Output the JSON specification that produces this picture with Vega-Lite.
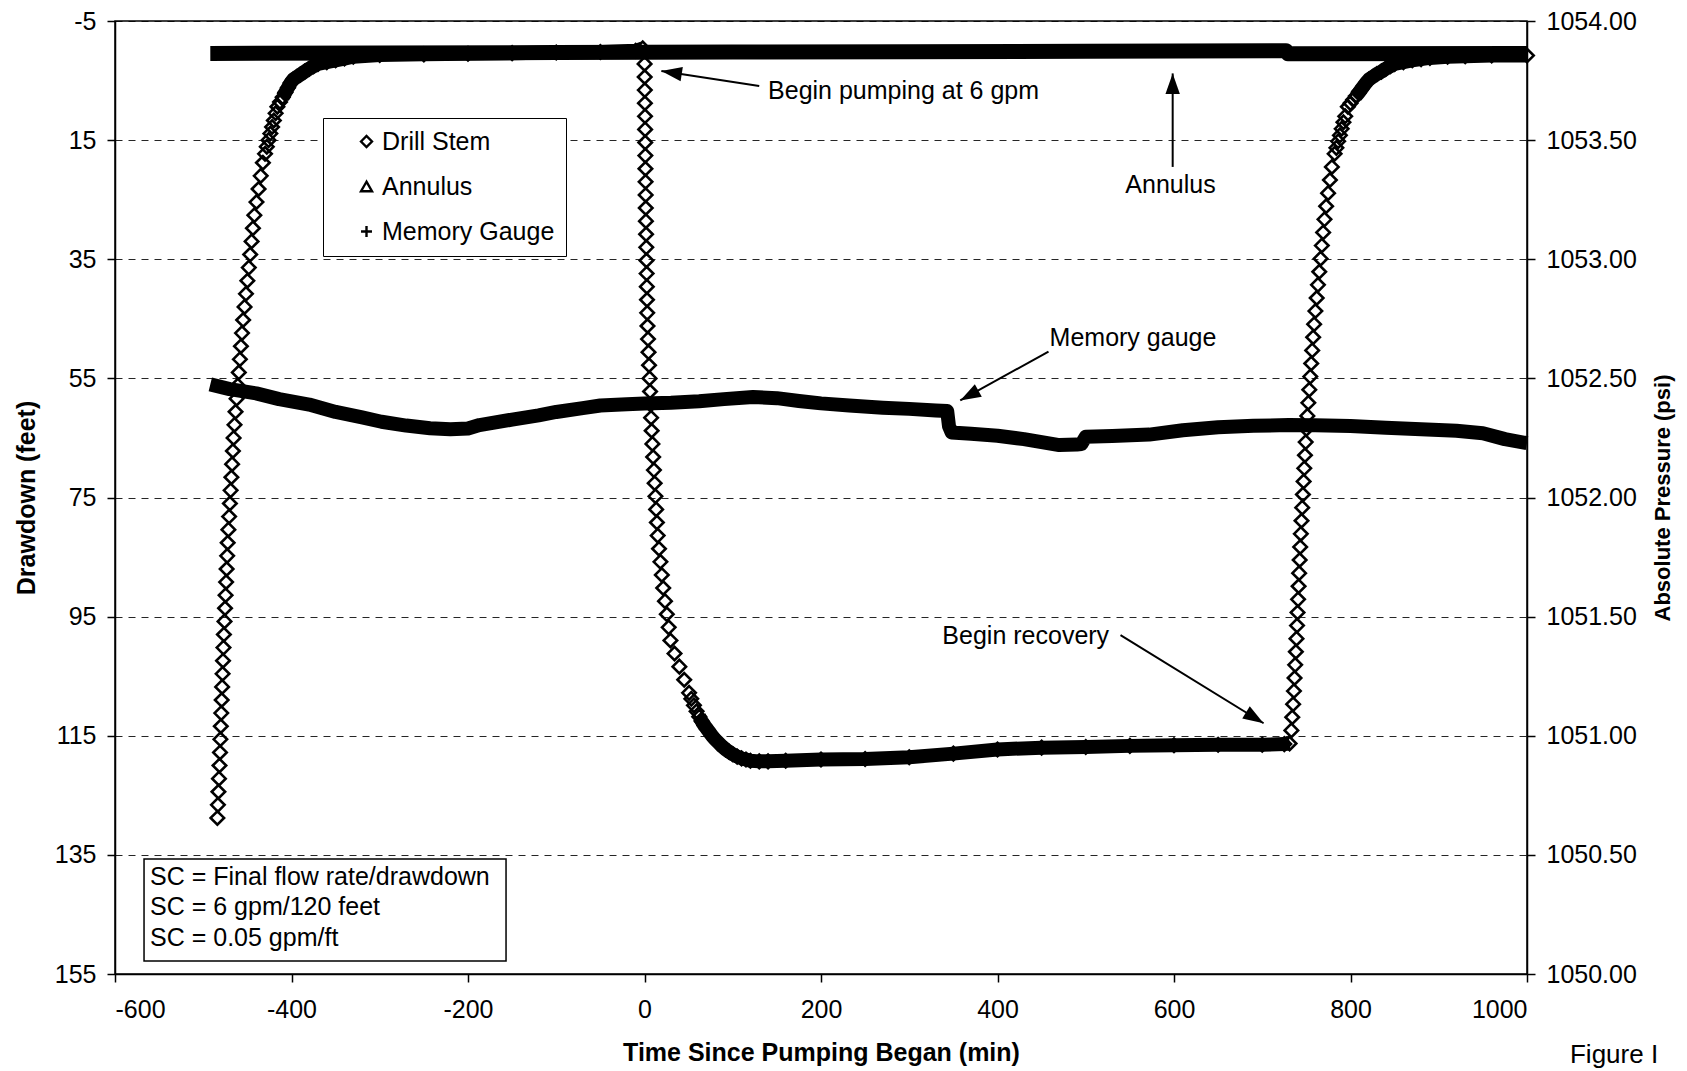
{
  "$schema": "https://vega.github.io/schema/vega-lite/v6.json",
  "width": 1412,
  "height": 953,
  "autosize": "none",
  "padding": {"left": 115, "top": 21, "right": 160, "bottom": 97},
  "background": "white",
  "config": {
    "font": "Liberation Sans",
    "view": {"stroke": "black", "strokeWidth": 1.5},
    "axis": {
      "domainColor": "black", "domainWidth": 1.5, "tickColor": "black", "tickWidth": 1.5, "tickSize": 8,
      "labelColor": "black", "labelFontSize": 25, "labelFont": "Liberation Sans", "labelPadding": 11,
      "titleFont": "Liberation Sans", "titleColor": "black", "titleFontWeight": "bold",
      "gridColor": "black", "gridDash": [7, 6], "gridWidth": 1, "gridOpacity": 0.85
    }
  },
  "datasets": {
    "drill": [
      {"t":-484.0,"d":128.8,"phase":"prior recovery","series":"Drill Stem"},
      {"t":-483.4,"d":126.6,"phase":"prior recovery","series":"Drill Stem"},
      {"t":-482.8,"d":124.4,"phase":"prior recovery","series":"Drill Stem"},
      {"t":-482.2,"d":122.2,"phase":"prior recovery","series":"Drill Stem"},
      {"t":-481.6,"d":120.0,"phase":"prior recovery","series":"Drill Stem"},
      {"t":-481.0,"d":117.8,"phase":"prior recovery","series":"Drill Stem"},
      {"t":-480.6,"d":115.6,"phase":"prior recovery","series":"Drill Stem"},
      {"t":-480.1,"d":113.4,"phase":"prior recovery","series":"Drill Stem"},
      {"t":-479.6,"d":111.2,"phase":"prior recovery","series":"Drill Stem"},
      {"t":-479.1,"d":109.0,"phase":"prior recovery","series":"Drill Stem"},
      {"t":-478.6,"d":106.8,"phase":"prior recovery","series":"Drill Stem"},
      {"t":-478.1,"d":104.6,"phase":"prior recovery","series":"Drill Stem"},
      {"t":-477.6,"d":102.4,"phase":"prior recovery","series":"Drill Stem"},
      {"t":-477.1,"d":100.2,"phase":"prior recovery","series":"Drill Stem"},
      {"t":-476.6,"d":98.0,"phase":"prior recovery","series":"Drill Stem"},
      {"t":-475.9,"d":95.8,"phase":"prior recovery","series":"Drill Stem"},
      {"t":-475.3,"d":93.6,"phase":"prior recovery","series":"Drill Stem"},
      {"t":-474.7,"d":91.4,"phase":"prior recovery","series":"Drill Stem"},
      {"t":-474.1,"d":89.2,"phase":"prior recovery","series":"Drill Stem"},
      {"t":-473.5,"d":87.0,"phase":"prior recovery","series":"Drill Stem"},
      {"t":-472.9,"d":84.8,"phase":"prior recovery","series":"Drill Stem"},
      {"t":-472.3,"d":82.6,"phase":"prior recovery","series":"Drill Stem"},
      {"t":-471.5,"d":80.4,"phase":"prior recovery","series":"Drill Stem"},
      {"t":-470.7,"d":78.2,"phase":"prior recovery","series":"Drill Stem"},
      {"t":-469.8,"d":76.0,"phase":"prior recovery","series":"Drill Stem"},
      {"t":-469.0,"d":73.8,"phase":"prior recovery","series":"Drill Stem"},
      {"t":-468.1,"d":71.6,"phase":"prior recovery","series":"Drill Stem"},
      {"t":-467.3,"d":69.4,"phase":"prior recovery","series":"Drill Stem"},
      {"t":-466.4,"d":67.2,"phase":"prior recovery","series":"Drill Stem"},
      {"t":-465.6,"d":65.0,"phase":"prior recovery","series":"Drill Stem"},
      {"t":-464.6,"d":62.8,"phase":"prior recovery","series":"Drill Stem"},
      {"t":-463.4,"d":60.6,"phase":"prior recovery","series":"Drill Stem"},
      {"t":-462.2,"d":58.4,"phase":"prior recovery","series":"Drill Stem"},
      {"t":-460.9,"d":56.2,"phase":"prior recovery","series":"Drill Stem"},
      {"t":-459.7,"d":54.0,"phase":"prior recovery","series":"Drill Stem"},
      {"t":-458.5,"d":51.8,"phase":"prior recovery","series":"Drill Stem"},
      {"t":-457.3,"d":49.6,"phase":"prior recovery","series":"Drill Stem"},
      {"t":-456.1,"d":47.4,"phase":"prior recovery","series":"Drill Stem"},
      {"t":-454.8,"d":45.2,"phase":"prior recovery","series":"Drill Stem"},
      {"t":-453.2,"d":43.0,"phase":"prior recovery","series":"Drill Stem"},
      {"t":-451.6,"d":40.8,"phase":"prior recovery","series":"Drill Stem"},
      {"t":-450.0,"d":38.6,"phase":"prior recovery","series":"Drill Stem"},
      {"t":-448.4,"d":36.4,"phase":"prior recovery","series":"Drill Stem"},
      {"t":-446.8,"d":34.2,"phase":"prior recovery","series":"Drill Stem"},
      {"t":-445.2,"d":32.0,"phase":"prior recovery","series":"Drill Stem"},
      {"t":-443.7,"d":29.8,"phase":"prior recovery","series":"Drill Stem"},
      {"t":-442.1,"d":27.6,"phase":"prior recovery","series":"Drill Stem"},
      {"t":-439.7,"d":25.4,"phase":"prior recovery","series":"Drill Stem"},
      {"t":-437.3,"d":23.2,"phase":"prior recovery","series":"Drill Stem"},
      {"t":-434.9,"d":21.0,"phase":"prior recovery","series":"Drill Stem"},
      {"t":-432.4,"d":18.8,"phase":"prior recovery","series":"Drill Stem"},
      {"t":-430,"d":17.3,"phase":"prior recovery","series":"Drill Stem"},
      {"t":-428,"d":16.1,"phase":"prior recovery","series":"Drill Stem"},
      {"t":-426,"d":15.0,"phase":"prior recovery","series":"Drill Stem"},
      {"t":-424,"d":13.9,"phase":"prior recovery","series":"Drill Stem"},
      {"t":-422,"d":12.8,"phase":"prior recovery","series":"Drill Stem"},
      {"t":-420,"d":11.7,"phase":"prior recovery","series":"Drill Stem"},
      {"t":-418,"d":10.5,"phase":"prior recovery","series":"Drill Stem"},
      {"t":-416,"d":9.4,"phase":"prior recovery","series":"Drill Stem"},
      {"t":-413,"d":8.6,"phase":"prior recovery","series":"Drill Stem"},
      {"t":-410,"d":7.8,"phase":"static","series":"Drill Stem"},
      {"t":-407,"d":7.0,"phase":"static","series":"Drill Stem"},
      {"t":-404,"d":6.2,"phase":"static","series":"Drill Stem"},
      {"t":-401,"d":5.4,"phase":"static","series":"Drill Stem"},
      {"t":-398,"d":4.8,"phase":"static","series":"Drill Stem"},
      {"t":-394,"d":4.4,"phase":"static","series":"Drill Stem"},
      {"t":-390,"d":4.0,"phase":"static","series":"Drill Stem"},
      {"t":-385,"d":3.5,"phase":"static","series":"Drill Stem"},
      {"t":-380,"d":3.0,"phase":"static","series":"Drill Stem"},
      {"t":-375,"d":2.6,"phase":"static","series":"Drill Stem"},
      {"t":-370,"d":2.2,"phase":"static","series":"Drill Stem"},
      {"t":-360,"d":1.9,"phase":"static","series":"Drill Stem"},
      {"t":-350,"d":1.6,"phase":"static","series":"Drill Stem"},
      {"t":-340,"d":1.3,"phase":"static","series":"Drill Stem"},
      {"t":-330,"d":1.0,"phase":"static","series":"Drill Stem"},
      {"t":-300,"d":0.7,"phase":"static","series":"Drill Stem"},
      {"t":-250,"d":0.6,"phase":"static","series":"Drill Stem"},
      {"t":-200,"d":0.5,"phase":"static","series":"Drill Stem"},
      {"t":-150,"d":0.4,"phase":"static","series":"Drill Stem"},
      {"t":-100,"d":0.3,"phase":"static","series":"Drill Stem"},
      {"t":-50,"d":0.2,"phase":"static","series":"Drill Stem"},
      {"t":-10,"d":0.0,"phase":"static","series":"Drill Stem"},
      {"t":-2,"d":-0.4,"phase":"static","series":"Drill Stem"},
      {"t":0.1,"d":2.2,"phase":"drawdown","series":"Drill Stem"},
      {"t":0.22,"d":4.4,"phase":"drawdown","series":"Drill Stem"},
      {"t":0.34,"d":6.6,"phase":"drawdown","series":"Drill Stem"},
      {"t":0.47,"d":8.8,"phase":"drawdown","series":"Drill Stem"},
      {"t":0.59,"d":11.0,"phase":"drawdown","series":"Drill Stem"},
      {"t":0.71,"d":13.2,"phase":"drawdown","series":"Drill Stem"},
      {"t":0.83,"d":15.4,"phase":"drawdown","series":"Drill Stem"},
      {"t":0.95,"d":17.6,"phase":"drawdown","series":"Drill Stem"},
      {"t":1.07,"d":19.8,"phase":"drawdown","series":"Drill Stem"},
      {"t":1.2,"d":22.0,"phase":"drawdown","series":"Drill Stem"},
      {"t":1.32,"d":24.2,"phase":"drawdown","series":"Drill Stem"},
      {"t":1.44,"d":26.4,"phase":"drawdown","series":"Drill Stem"},
      {"t":1.6,"d":28.6,"phase":"drawdown","series":"Drill Stem"},
      {"t":1.81,"d":30.8,"phase":"drawdown","series":"Drill Stem"},
      {"t":2.02,"d":33.0,"phase":"drawdown","series":"Drill Stem"},
      {"t":2.23,"d":35.2,"phase":"drawdown","series":"Drill Stem"},
      {"t":2.43,"d":37.4,"phase":"drawdown","series":"Drill Stem"},
      {"t":2.64,"d":39.6,"phase":"drawdown","series":"Drill Stem"},
      {"t":2.85,"d":41.8,"phase":"drawdown","series":"Drill Stem"},
      {"t":3.06,"d":44.0,"phase":"drawdown","series":"Drill Stem"},
      {"t":3.39,"d":46.2,"phase":"drawdown","series":"Drill Stem"},
      {"t":3.97,"d":48.4,"phase":"drawdown","series":"Drill Stem"},
      {"t":4.56,"d":50.6,"phase":"drawdown","series":"Drill Stem"},
      {"t":5.15,"d":52.8,"phase":"drawdown","series":"Drill Stem"},
      {"t":5.73,"d":55.0,"phase":"drawdown","series":"Drill Stem"},
      {"t":6.32,"d":57.2,"phase":"drawdown","series":"Drill Stem"},
      {"t":6.91,"d":59.4,"phase":"drawdown","series":"Drill Stem"},
      {"t":7.49,"d":61.6,"phase":"drawdown","series":"Drill Stem"},
      {"t":8.12,"d":63.8,"phase":"drawdown","series":"Drill Stem"},
      {"t":8.97,"d":66.0,"phase":"drawdown","series":"Drill Stem"},
      {"t":9.82,"d":68.2,"phase":"drawdown","series":"Drill Stem"},
      {"t":10.67,"d":70.4,"phase":"drawdown","series":"Drill Stem"},
      {"t":11.52,"d":72.6,"phase":"drawdown","series":"Drill Stem"},
      {"t":12.37,"d":74.8,"phase":"drawdown","series":"Drill Stem"},
      {"t":13.22,"d":77.0,"phase":"drawdown","series":"Drill Stem"},
      {"t":14.07,"d":79.2,"phase":"drawdown","series":"Drill Stem"},
      {"t":14.92,"d":81.4,"phase":"drawdown","series":"Drill Stem"},
      {"t":16.44,"d":83.6,"phase":"drawdown","series":"Drill Stem"},
      {"t":18.03,"d":85.8,"phase":"drawdown","series":"Drill Stem"},
      {"t":19.62,"d":88.0,"phase":"drawdown","series":"Drill Stem"},
      {"t":21.21,"d":90.2,"phase":"drawdown","series":"Drill Stem"},
      {"t":23.2,"d":92.4,"phase":"drawdown","series":"Drill Stem"},
      {"t":25.3,"d":94.6,"phase":"drawdown","series":"Drill Stem"},
      {"t":27.4,"d":96.8,"phase":"drawdown","series":"Drill Stem"},
      {"t":29.4,"d":99.0,"phase":"drawdown","series":"Drill Stem"},
      {"t":34.0,"d":101.2,"phase":"drawdown","series":"Drill Stem"},
      {"t":39.5,"d":103.4,"phase":"drawdown","series":"Drill Stem"},
      {"t":45.0,"d":105.6,"phase":"drawdown","series":"Drill Stem"},
      {"t":50.5,"d":107.8,"phase":"drawdown","series":"Drill Stem"},
      {"t":53,"d":108.8,"phase":"drawdown","series":"Drill Stem"},
      {"t":56,"d":109.9,"phase":"drawdown","series":"Drill Stem"},
      {"t":59,"d":110.9,"phase":"drawdown","series":"Drill Stem"},
      {"t":62,"d":111.8,"phase":"pumping","series":"Drill Stem"},
      {"t":65,"d":112.6,"phase":"pumping","series":"Drill Stem"},
      {"t":68,"d":113.3,"phase":"pumping","series":"Drill Stem"},
      {"t":71,"d":113.9,"phase":"pumping","series":"Drill Stem"},
      {"t":74,"d":114.5,"phase":"pumping","series":"Drill Stem"},
      {"t":77,"d":115.1,"phase":"pumping","series":"Drill Stem"},
      {"t":80,"d":115.6,"phase":"pumping","series":"Drill Stem"},
      {"t":84,"d":116.2,"phase":"pumping","series":"Drill Stem"},
      {"t":88,"d":116.8,"phase":"pumping","series":"Drill Stem"},
      {"t":92,"d":117.3,"phase":"pumping","series":"Drill Stem"},
      {"t":96,"d":117.7,"phase":"pumping","series":"Drill Stem"},
      {"t":100,"d":118.1,"phase":"pumping","series":"Drill Stem"},
      {"t":105,"d":118.5,"phase":"pumping","series":"Drill Stem"},
      {"t":110,"d":118.8,"phase":"pumping","series":"Drill Stem"},
      {"t":115,"d":119.0,"phase":"pumping","series":"Drill Stem"},
      {"t":120,"d":119.2,"phase":"pumping","series":"Drill Stem"},
      {"t":130,"d":119.3,"phase":"pumping","series":"Drill Stem"},
      {"t":140,"d":119.3,"phase":"pumping","series":"Drill Stem"},
      {"t":160,"d":119.2,"phase":"pumping","series":"Drill Stem"},
      {"t":200,"d":119.0,"phase":"pumping","series":"Drill Stem"},
      {"t":250,"d":118.9,"phase":"pumping","series":"Drill Stem"},
      {"t":300,"d":118.6,"phase":"pumping","series":"Drill Stem"},
      {"t":350,"d":118.0,"phase":"pumping","series":"Drill Stem"},
      {"t":400,"d":117.3,"phase":"pumping","series":"Drill Stem"},
      {"t":450,"d":117.0,"phase":"pumping","series":"Drill Stem"},
      {"t":500,"d":116.9,"phase":"pumping","series":"Drill Stem"},
      {"t":550,"d":116.7,"phase":"pumping","series":"Drill Stem"},
      {"t":600,"d":116.6,"phase":"pumping","series":"Drill Stem"},
      {"t":650,"d":116.5,"phase":"pumping","series":"Drill Stem"},
      {"t":700,"d":116.5,"phase":"pumping","series":"Drill Stem"},
      {"t":725,"d":116.4,"phase":"pumping","series":"Drill Stem"},
      {"t":731,"d":116.3,"phase":"pumping","series":"Drill Stem"},
      {"t":733.0,"d":114.1,"phase":"recovery","series":"Drill Stem"},
      {"t":734.0,"d":111.9,"phase":"recovery","series":"Drill Stem"},
      {"t":735.0,"d":109.7,"phase":"recovery","series":"Drill Stem"},
      {"t":735.9,"d":107.5,"phase":"recovery","series":"Drill Stem"},
      {"t":736.6,"d":105.3,"phase":"recovery","series":"Drill Stem"},
      {"t":737.3,"d":103.1,"phase":"recovery","series":"Drill Stem"},
      {"t":738.1,"d":100.9,"phase":"recovery","series":"Drill Stem"},
      {"t":738.8,"d":98.7,"phase":"recovery","series":"Drill Stem"},
      {"t":739.4,"d":96.5,"phase":"recovery","series":"Drill Stem"},
      {"t":740.0,"d":94.3,"phase":"recovery","series":"Drill Stem"},
      {"t":740.6,"d":92.1,"phase":"recovery","series":"Drill Stem"},
      {"t":741.2,"d":89.9,"phase":"recovery","series":"Drill Stem"},
      {"t":741.8,"d":87.7,"phase":"recovery","series":"Drill Stem"},
      {"t":742.4,"d":85.5,"phase":"recovery","series":"Drill Stem"},
      {"t":743.0,"d":83.3,"phase":"recovery","series":"Drill Stem"},
      {"t":743.7,"d":81.1,"phase":"recovery","series":"Drill Stem"},
      {"t":744.5,"d":78.9,"phase":"recovery","series":"Drill Stem"},
      {"t":745.3,"d":76.7,"phase":"recovery","series":"Drill Stem"},
      {"t":746.1,"d":74.5,"phase":"recovery","series":"Drill Stem"},
      {"t":746.9,"d":72.3,"phase":"recovery","series":"Drill Stem"},
      {"t":747.6,"d":70.1,"phase":"recovery","series":"Drill Stem"},
      {"t":748.4,"d":67.9,"phase":"recovery","series":"Drill Stem"},
      {"t":749.2,"d":65.7,"phase":"recovery","series":"Drill Stem"},
      {"t":750.0,"d":63.5,"phase":"recovery","series":"Drill Stem"},
      {"t":751.1,"d":61.3,"phase":"recovery","series":"Drill Stem"},
      {"t":752.2,"d":59.1,"phase":"recovery","series":"Drill Stem"},
      {"t":753.3,"d":56.9,"phase":"recovery","series":"Drill Stem"},
      {"t":754.4,"d":54.7,"phase":"recovery","series":"Drill Stem"},
      {"t":755.5,"d":52.5,"phase":"recovery","series":"Drill Stem"},
      {"t":756.6,"d":50.3,"phase":"recovery","series":"Drill Stem"},
      {"t":757.7,"d":48.1,"phase":"recovery","series":"Drill Stem"},
      {"t":758.8,"d":45.9,"phase":"recovery","series":"Drill Stem"},
      {"t":760.2,"d":43.7,"phase":"recovery","series":"Drill Stem"},
      {"t":761.7,"d":41.5,"phase":"recovery","series":"Drill Stem"},
      {"t":763.1,"d":39.3,"phase":"recovery","series":"Drill Stem"},
      {"t":764.6,"d":37.1,"phase":"recovery","series":"Drill Stem"},
      {"t":766.1,"d":34.9,"phase":"recovery","series":"Drill Stem"},
      {"t":767.5,"d":32.7,"phase":"recovery","series":"Drill Stem"},
      {"t":769.0,"d":30.5,"phase":"recovery","series":"Drill Stem"},
      {"t":770.5,"d":28.3,"phase":"recovery","series":"Drill Stem"},
      {"t":772.4,"d":26.1,"phase":"recovery","series":"Drill Stem"},
      {"t":774.6,"d":23.9,"phase":"recovery","series":"Drill Stem"},
      {"t":776.7,"d":21.7,"phase":"recovery","series":"Drill Stem"},
      {"t":778.9,"d":19.5,"phase":"recovery","series":"Drill Stem"},
      {"t":782,"d":17.3,"phase":"recovery","series":"Drill Stem"},
      {"t":784,"d":16.3,"phase":"recovery","series":"Drill Stem"},
      {"t":786,"d":15.2,"phase":"recovery","series":"Drill Stem"},
      {"t":788,"d":14.2,"phase":"recovery","series":"Drill Stem"},
      {"t":790,"d":13.1,"phase":"recovery","series":"Drill Stem"},
      {"t":792,"d":12.0,"phase":"recovery","series":"Drill Stem"},
      {"t":794,"d":11.0,"phase":"recovery","series":"Drill Stem"},
      {"t":797,"d":9.4,"phase":"recovery","series":"Drill Stem"},
      {"t":800,"d":8.8,"phase":"recovery","series":"Drill Stem"},
      {"t":803,"d":8.2,"phase":"recovery","series":"Drill Stem"},
      {"t":806,"d":7.6,"phase":"post","series":"Drill Stem"},
      {"t":809,"d":7.1,"phase":"post","series":"Drill Stem"},
      {"t":812,"d":6.5,"phase":"post","series":"Drill Stem"},
      {"t":815,"d":5.9,"phase":"post","series":"Drill Stem"},
      {"t":818,"d":5.3,"phase":"post","series":"Drill Stem"},
      {"t":821,"d":4.8,"phase":"post","series":"Drill Stem"},
      {"t":825,"d":4.4,"phase":"post","series":"Drill Stem"},
      {"t":830,"d":3.9,"phase":"post","series":"Drill Stem"},
      {"t":835,"d":3.5,"phase":"post","series":"Drill Stem"},
      {"t":840,"d":3.0,"phase":"post","series":"Drill Stem"},
      {"t":845,"d":2.6,"phase":"post","series":"Drill Stem"},
      {"t":850,"d":2.2,"phase":"post","series":"Drill Stem"},
      {"t":860,"d":1.9,"phase":"post","series":"Drill Stem"},
      {"t":870,"d":1.6,"phase":"post","series":"Drill Stem"},
      {"t":880,"d":1.4,"phase":"post","series":"Drill Stem"},
      {"t":890,"d":1.2,"phase":"post","series":"Drill Stem"},
      {"t":910,"d":1.0,"phase":"post","series":"Drill Stem"},
      {"t":930,"d":0.9,"phase":"post","series":"Drill Stem"},
      {"t":960,"d":0.8,"phase":"post","series":"Drill Stem"},
      {"t":1000,"d":0.8,"phase":"post","series":"Drill Stem"}
    ],
    "annulus": [
      {"t":-492,"d":0.45},{"t":-300,"d":0.38},{"t":-100,"d":0.3},{"t":100,"d":0.22},
      {"t":300,"d":0.15},{"t":500,"d":0.08},{"t":727,"d":0.0},{"t":729,"d":0.5},{"t":1000,"d":0.45}
    ],
    "gauge": [
      {"t":-492,"psi":1052.475},{"t":-470,"psi":1052.455},{"t":-440,"psi":1052.437},{"t":-414,"psi":1052.413},
      {"t":-380,"psi":1052.390},{"t":-350,"psi":1052.359},{"t":-320,"psi":1052.336},{"t":-298,"psi":1052.318},
      {"t":-270,"psi":1052.302},{"t":-243,"psi":1052.291},{"t":-220,"psi":1052.286},{"t":-200,"psi":1052.290},
      {"t":-187,"psi":1052.304},{"t":-150,"psi":1052.327},{"t":-120,"psi":1052.345},{"t":-100,"psi":1052.359},
      {"t":-70,"psi":1052.375},{"t":-50,"psi":1052.386},{"t":-20,"psi":1052.391},{"t":0,"psi":1052.395},
      {"t":30,"psi":1052.398},{"t":62,"psi":1052.404},{"t":90,"psi":1052.413},{"t":123,"psi":1052.422},
      {"t":150,"psi":1052.417},{"t":175,"psi":1052.405},{"t":200,"psi":1052.395},{"t":232,"psi":1052.386},
      {"t":270,"psi":1052.377},{"t":300,"psi":1052.372},{"t":330,"psi":1052.365},{"t":343,"psi":1052.363},
      {"t":345,"psi":1052.300},{"t":348,"psi":1052.273},{"t":370,"psi":1052.268},{"t":400,"psi":1052.259},
      {"t":430,"psi":1052.245},{"t":470,"psi":1052.220},{"t":490,"psi":1052.222},{"t":495,"psi":1052.224},
      {"t":500,"psi":1052.255},{"t":530,"psi":1052.258},{"t":572,"psi":1052.264},{"t":610,"psi":1052.282},
      {"t":650,"psi":1052.295},{"t":690,"psi":1052.301},{"t":730,"psi":1052.304},{"t":760,"psi":1052.303},
      {"t":800,"psi":1052.300},{"t":840,"psi":1052.293},{"t":880,"psi":1052.286},{"t":920,"psi":1052.280},
      {"t":950,"psi":1052.270},{"t":975,"psi":1052.245},{"t":1000,"psi":1052.228}
    ]
  },
  "encoding": {
    "x": {
      "field": "t", "type": "quantitative",
      "scale": {"domain": [-600, 1000], "nice": false, "zero": false},
      "axis": {
        "values": [-600, -400, -200, 0, 200, 400, 600, 800, 1000],
        "labelExpr": "'' + datum.value",
        "title": "Time Since Pumping Began (min)", "titleFontSize": 25, "titlePadding": 18,
        "labelPadding": 15, "grid": false
      }
    }
  },
  "layer": [
    {
      "encoding": {
        "y": {
          "field": "d", "type": "quantitative",
          "scale": {"domain": [-5, 155], "reverse": true, "nice": false, "zero": false},
          "axis": {
            "values": [-5, 15, 35, 55, 75, 95, 115, 135, 155],
            "labelExpr": "'' + datum.value",
            "title": "Drawdown (feet)", "titleFontSize": 25, "titlePadding": 15, "grid": true
          }
        }
      },
      "layer": [
        {
          "data": {"name": "drill"},
          "transform": [{"filter": {"field": "phase", "oneOf": ["static", "pumping", "post"]}}],
          "mark": {"type": "line", "color": "black", "strokeWidth": 14, "strokeJoin": "round", "strokeCap": "butt"},
          "encoding": {"detail": {"field": "phase"}}
        },
        {
          "data": {"name": "annulus"},
          "mark": {"type": "line", "color": "black", "strokeWidth": 15, "strokeJoin": "round", "strokeCap": "butt"},
          "encoding": {}
        },
        {
          "data": {"name": "drill"},
          "mark": {"type": "point", "filled": false, "color": "black", "strokeWidth": 2.6, "size": 180, "opacity": 1},
          "encoding": {
            "shape": {
              "field": "series", "type": "nominal",
              "scale": {"domain": ["Drill Stem", "Annulus", "Memory Gauge"], "range": ["M-1,0L0,-1L1,0L0,1Z", "triangle-up", "M-1,0H1M0,-1V1"]},
              "legend": {
                "title": null, "orient": "none", "legendX": 208, "legendY": 97, "direction": "vertical",
                "strokeColor": "black", "fillColor": "white", "padding": 11,
                "labelFont": "Liberation Sans", "labelFontSize": 25, "labelColor": "black", "labelLimit": 500,
                "labelExpr": "datum.label + '\u00a0\u00a0\u00a0\u00a0\u00a0\u00a0\u00a0\u00a0\u00a0\u00a0'",
                "symbolSize": 120, "symbolStrokeWidth": 2.4, "symbolFillColor": "transparent", "symbolStrokeColor": "black",
                "symbolOffset": 20, "labelOffset": 3, "rowPadding": 19
              }
            }
          }
        },
        {
          "data": {"values": [{"t": -567.1, "t2": -156.9, "d": 135.7, "d2": 152.8}]},
          "mark": {"type": "rect", "fill": "white", "stroke": "black", "strokeWidth": 1.5},
          "encoding": {"x2": {"field": "t2"}, "y2": {"field": "d2"}}
        },
        {
          "data": {"values": [{"t": -560.3, "d": 138.7}]},
          "mark": {"type": "text", "text": ["SC = Final flow rate/drawdown", "SC = 6 gpm/120 feet", "SC = 0.05 gpm/ft"], "align": "left", "baseline": "middle", "fontSize": 25, "lineHeight": 30.5, "color": "black"}
        },
        {
          "data": {"values": [
            {"t": 140, "d": 6.8, "label": "Begin pumping at 6 gpm"}
          ]},
          "mark": {"type": "text", "align": "left", "baseline": "middle", "fontSize": 25, "color": "black"},
          "encoding": {"text": {"field": "label"}}
        },
        {
          "data": {"values": [
            {"t": 596, "d": 22.5, "label": "Annulus"},
            {"t": 553.5, "d": 48.2, "label": "Memory gauge"},
            {"t": 432, "d": 98.2, "label": "Begin recovery"}
          ]},
          "mark": {"type": "text", "align": "center", "baseline": "middle", "fontSize": 25, "color": "black"},
          "encoding": {"text": {"field": "label"}}
        },
        {
          "data": {"values": [
            {"t": 130, "d": 5.9, "t2": 19.1, "d2": 3.4},
            {"t": 598.5, "d": 19.5, "t2": 598.5, "d2": 3.8},
            {"t": 457.8, "d": 50.5, "t2": 357.8, "d2": 58.7},
            {"t": 539.4, "d": 98.1, "t2": 701.5, "d2": 112.9}
          ]},
          "mark": {"type": "rule", "color": "black", "strokeWidth": 2},
          "encoding": {"x2": {"field": "t2"}, "y2": {"field": "d2"}}
        },
        {
          "data": {"values": [{"t": 19.1, "d": 3.4}]},
          "mark": {"type": "point", "shape": "M0,0L0.35,1L-0.35,1Z", "filled": true, "color": "black", "size": 1700, "angle": 278.8, "opacity": 1, "strokeWidth": 0}
        },
        {
          "data": {"values": [{"t": 598.5, "d": 3.8}]},
          "mark": {"type": "point", "shape": "M0,0L0.35,1L-0.35,1Z", "filled": true, "color": "black", "size": 1700, "angle": 0, "opacity": 1, "strokeWidth": 0}
        },
        {
          "data": {"values": [{"t": 357.8, "d": 58.7}]},
          "mark": {"type": "point", "shape": "M0,0L0.35,1L-0.35,1Z", "filled": true, "color": "black", "size": 1700, "angle": 241.2, "opacity": 1, "strokeWidth": 0}
        },
        {
          "data": {"values": [{"t": 701.5, "d": 112.9}]},
          "mark": {"type": "point", "shape": "M0,0L0.35,1L-0.35,1Z", "filled": true, "color": "black", "size": 1700, "angle": 121.6, "opacity": 1, "strokeWidth": 0}
        },
        {
          "data": {"values": [{"t": 1048.7, "d": 170.8}]},
          "mark": {"type": "text", "text": "Figure I", "align": "left", "baseline": "bottom", "fontSize": 26, "color": "black"}
        }
      ]
    },
    {
      "data": {"name": "gauge"},
      "mark": {"type": "line", "color": "black", "strokeWidth": 14, "strokeJoin": "round", "strokeCap": "butt"},
      "encoding": {
        "y": {
          "field": "psi", "type": "quantitative",
          "scale": {"domain": [1050, 1054], "nice": false, "zero": false},
          "axis": {
            "orient": "right", "values": [1050, 1050.5, 1051, 1051.5, 1052, 1052.5, 1053, 1053.5, 1054],
            "format": ".2f", "title": "Absolute Pressure (psi)", "titleFontSize": 22,
            "titleAngle": 270, "titleX": 135, "titleY": 476.5, "titleAlign": "center", "titleBaseline": "middle", "grid": false
          }
        }
      }
    }
  ],
  "resolve": {"scale": {"y": "independent"}}
}
